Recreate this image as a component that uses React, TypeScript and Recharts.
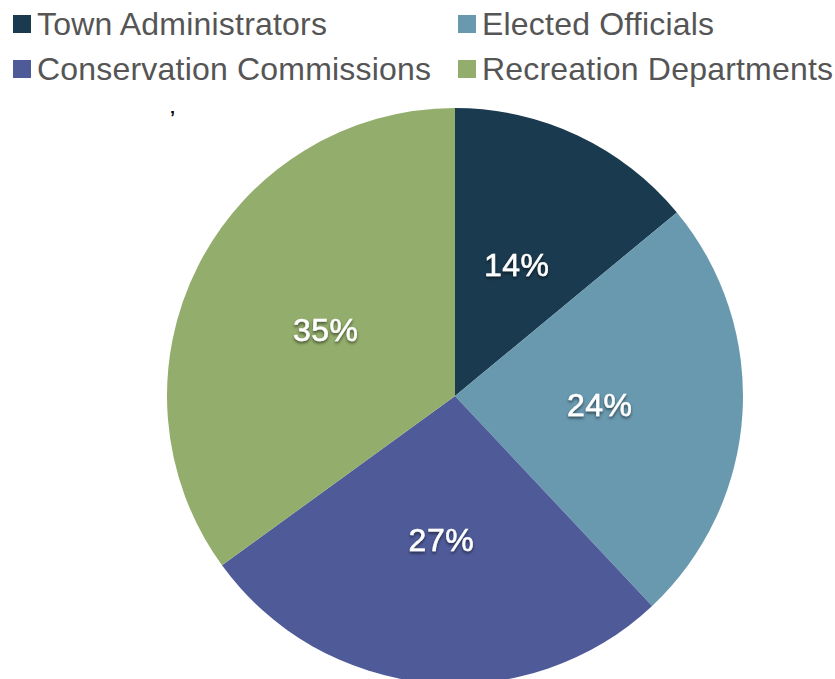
import React from "react";
import { PieChart, Pie, Cell } from "recharts";

const categories = ["Town Administrators", "Elected Officials", "Conservation Commissions", "Recreation Departments"];
const values = [14, 24, 27, 35];
const colors = ["#1a3a4f", "#6999af", "#4f5b99", "#93ad6c"];
const legendOrder = [0, 1, 2, 3];

const data = categories.map((name, i) => ({ name, value: values[i] }));

const RAD = Math.PI / 180;
const renderLabel = (props: any) => {
  const { cx, cy, midAngle, value } = props;
  const r = 145;
  const x = cx + r * Math.cos(-midAngle * RAD);
  const y = cy + r * Math.sin(-midAngle * RAD);
  return (
    <text
      x={x}
      y={y}
      fill="#ffffff"
      textAnchor="middle"
      dominantBaseline="central"
      fontFamily="'Liberation Sans', Arial, sans-serif"
      fontSize={32}
      letterSpacing={0.5}
      stroke="#ffffff"
      strokeWidth={0.5}
      filter="url(#lblShadow)"
    >
      {`${value}%`}
    </text>
  );
};

export default function App() {
  return (
    <div style={{ position: "absolute", left: 0, top: 0, width: 835, height: 679, background: "#fff", overflow: "hidden" }}>
      <div
        style={{
          position: "absolute",
          left: 13,
          top: 3,
          display: "grid",
          gridTemplateColumns: "445px 400px",
          rowGap: 3,
          fontFamily: "'Liberation Sans', Arial, sans-serif",
          fontSize: 32,
          letterSpacing: 0.2,
          color: "#555555",
          lineHeight: "42px",
        }}
      >
        {legendOrder.map((i) => (
          <div key={categories[i]} style={{ display: "flex", alignItems: "center", whiteSpace: "nowrap" }}>
            <span style={{ display: "inline-block", flexShrink: 0, width: 18, height: 18, background: colors[i], marginRight: 6 }} />
            <span>{categories[i]}</span>
          </div>
        ))}
      </div>
      <div style={{ position: "absolute", left: 170, top: 109, fontSize: 18, fontWeight: "bold", color: "#000", lineHeight: "18px", fontFamily: "'Liberation Sans', Arial, sans-serif" }}>’</div>
      <PieChart width={835} height={679} margin={{ top: 0, right: 0, bottom: 0, left: 0 }} style={{ position: "absolute", left: 0, top: 0 }}>
        <defs>
          <filter id="lblShadow" x="-30%" y="-30%" width="160%" height="160%">
            <feDropShadow dx="0" dy="2" stdDeviation="1.5" floodColor="#000" floodOpacity="0.55" />
          </filter>
        </defs>
        <Pie
          data={data}
          dataKey="value"
          nameKey="name"
          cx={455}
          cy={396}
          outerRadius={288}
          startAngle={90}
          endAngle={-270}
          stroke="none"
          label={renderLabel}
          labelLine={false}
          isAnimationActive={false}
        >
          {data.map((d, i) => (
            <Cell key={d.name} fill={colors[i]} />
          ))}
        </Pie>
      </PieChart>
    </div>
  );
}
